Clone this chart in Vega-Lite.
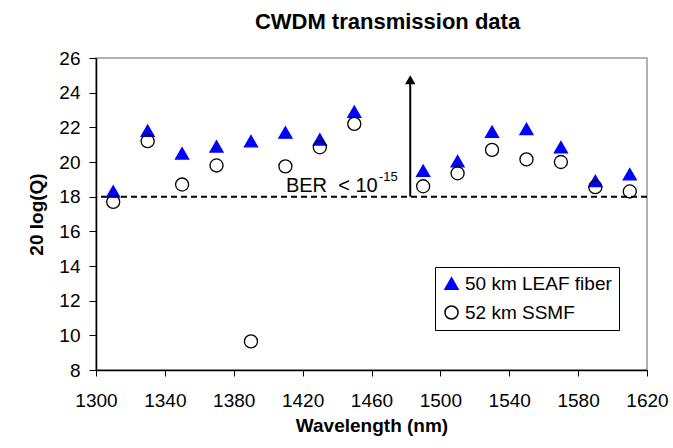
{
  "$schema": "https://vega.github.io/schema/vega-lite/v6.json",
  "width": 551,
  "height": 312,
  "autosize": "none",
  "padding": {"left": 96, "top": 58, "right": 26, "bottom": 78},
  "background": "white",
  "title": {"text": "CWDM transmission data", "fontSize": 22, "font": "Liberation Sans", "fontWeight": "bold", "color": "black", "anchor": "middle", "dx": 16, "offset": 15},
  "config": {
    "font": "Liberation Sans",
    "view": {"stroke": "#999999", "strokeWidth": 1.5},
    "axis": {"grid": false, "domainColor": "black", "domainWidth": 1.5, "tickColor": "black", "labelColor": "black", "titleColor": "black", "labelFont": "Liberation Sans", "titleFont": "Liberation Sans", "labelFontSize": 19, "titleFontSize": 19, "titleFontWeight": "bold", "labelOverlap": false, "labelFlush": false, "labelBound": false}
  },
  "datasets": {
    "points": [
      {"wavelength": 1310, "q": 18.3, "fiber": "50 km LEAF fiber"},
      {"wavelength": 1330, "q": 21.8, "fiber": "50 km LEAF fiber"},
      {"wavelength": 1350, "q": 20.5, "fiber": "50 km LEAF fiber"},
      {"wavelength": 1370, "q": 20.9, "fiber": "50 km LEAF fiber"},
      {"wavelength": 1390, "q": 21.2, "fiber": "50 km LEAF fiber"},
      {"wavelength": 1410, "q": 21.7, "fiber": "50 km LEAF fiber"},
      {"wavelength": 1430, "q": 21.3, "fiber": "50 km LEAF fiber"},
      {"wavelength": 1450, "q": 22.9, "fiber": "50 km LEAF fiber"},
      {"wavelength": 1490, "q": 19.5, "fiber": "50 km LEAF fiber"},
      {"wavelength": 1510, "q": 20.05, "fiber": "50 km LEAF fiber"},
      {"wavelength": 1530, "q": 21.75, "fiber": "50 km LEAF fiber"},
      {"wavelength": 1550, "q": 21.9, "fiber": "50 km LEAF fiber"},
      {"wavelength": 1570, "q": 20.85, "fiber": "50 km LEAF fiber"},
      {"wavelength": 1590, "q": 18.9, "fiber": "50 km LEAF fiber"},
      {"wavelength": 1610, "q": 19.3, "fiber": "50 km LEAF fiber"},
      {"wavelength": 1310, "q": 17.7, "fiber": "52 km SSMF"},
      {"wavelength": 1330, "q": 21.2, "fiber": "52 km SSMF"},
      {"wavelength": 1350, "q": 18.7, "fiber": "52 km SSMF"},
      {"wavelength": 1370, "q": 19.8, "fiber": "52 km SSMF"},
      {"wavelength": 1390, "q": 9.65, "fiber": "52 km SSMF"},
      {"wavelength": 1410, "q": 19.75, "fiber": "52 km SSMF"},
      {"wavelength": 1430, "q": 20.85, "fiber": "52 km SSMF"},
      {"wavelength": 1450, "q": 22.2, "fiber": "52 km SSMF"},
      {"wavelength": 1490, "q": 18.6, "fiber": "52 km SSMF"},
      {"wavelength": 1510, "q": 19.35, "fiber": "52 km SSMF"},
      {"wavelength": 1530, "q": 20.7, "fiber": "52 km SSMF"},
      {"wavelength": 1550, "q": 20.15, "fiber": "52 km SSMF"},
      {"wavelength": 1570, "q": 20.0, "fiber": "52 km SSMF"},
      {"wavelength": 1590, "q": 18.55, "fiber": "52 km SSMF"},
      {"wavelength": 1610, "q": 18.3, "fiber": "52 km SSMF"}
    ],
    "threshold": [{"q": 18, "arrow_x": 1482.5, "arrow_top": 24.5, "head": 24.75}],
    "labels": [
      {"wavelength": 1410.3, "q": 18.25, "label": "BER\u00a0\u00a0< 10"},
      {"wavelength": 1464.3, "q": 18.93, "label": "-15"}
    ]
  },
  "layer": [
    {
      "data": {"name": "threshold"},
      "mark": {"type": "rule", "strokeDash": [6, 4], "strokeWidth": 2, "color": "black"},
      "encoding": {
        "y": {"field": "q", "type": "quantitative", "title": "20 log(Q)",
              "scale": {"domain": [8, 26], "nice": false, "zero": false},
              "axis": {"values": [8, 10, 12, 14, 16, 18, 20, 22, 24, 26], "tickCount": 10, "labelOverlap": false, "tickSize": 7, "labelPadding": 9, "titlePadding": 12}}
      }
    },
    {
      "data": {"name": "threshold"},
      "mark": {"type": "rule", "strokeWidth": 2, "color": "black"},
      "encoding": {
        "x": {"field": "arrow_x", "type": "quantitative", "title": "Wavelength (nm)",
              "scale": {"domain": [1300, 1620], "nice": false, "zero": false},
              "axis": {"values": [1300, 1340, 1380, 1420, 1460, 1500, 1540, 1580, 1620], "tickCount": 9, "labelOverlap": false, "tickSize": 6, "labelPadding": 15, "titlePadding": 6, "format": "d"}},
        "y": {"field": "q", "type": "quantitative"},
        "y2": {"field": "arrow_top"}
      }
    },
    {
      "data": {"name": "threshold"},
      "mark": {"type": "point", "shape": "triangle-up", "filled": true, "color": "black", "size": 110, "opacity": 1},
      "encoding": {"x": {"field": "arrow_x", "type": "quantitative"}, "y": {"field": "head", "type": "quantitative"}}
    },
    {
      "data": {"name": "labels"},
      "transform": [{"filter": "datum.label != '-15'"}],
      "mark": {"type": "text", "fontSize": 20, "fontWeight": "normal", "font": "Liberation Sans", "align": "left", "baseline": "alphabetic", "color": "black"},
      "encoding": {"x": {"field": "wavelength", "type": "quantitative"}, "y": {"field": "q", "type": "quantitative"}, "text": {"field": "label"}}
    },
    {
      "data": {"name": "labels"},
      "transform": [{"filter": "datum.label == '-15'"}],
      "mark": {"type": "text", "fontSize": 13, "fontWeight": "normal", "font": "Liberation Sans", "align": "left", "baseline": "alphabetic", "color": "black"},
      "encoding": {"x": {"field": "wavelength", "type": "quantitative"}, "y": {"field": "q", "type": "quantitative"}, "text": {"field": "label"}}
    },
    {
      "data": {"name": "points"},
      "mark": {"type": "point", "size": 170, "strokeWidth": 1.3, "opacity": 1},
      "encoding": {
        "x": {"field": "wavelength", "type": "quantitative"},
        "y": {"field": "q", "type": "quantitative"},
        "shape": {"field": "fiber", "type": "nominal", "scale": {"domain": ["50 km LEAF fiber", "52 km SSMF"], "range": ["triangle-up", "circle"]},
                  "legend": {"title": null, "orient": "none", "legendX": 339, "legendY": 209, "strokeColor": "black", "fillColor": "white", "padding": 7, "labelFontSize": 19, "labelColor": "black", "rowPadding": 8, "symbolSize": 170, "labelLimit": 300}},
        "fill": {"field": "fiber", "type": "nominal", "scale": {"domain": ["50 km LEAF fiber", "52 km SSMF"], "range": ["#0000ff", "transparent"]}, "legend": {"title": null, "orient": "none", "legendX": 339, "legendY": 209}},
        "stroke": {"field": "fiber", "type": "nominal", "scale": {"domain": ["50 km LEAF fiber", "52 km SSMF"], "range": ["#0000ff", "black"]}, "legend": {"title": null, "orient": "none", "legendX": 339, "legendY": 209}}
      }
    }
  ]
}
